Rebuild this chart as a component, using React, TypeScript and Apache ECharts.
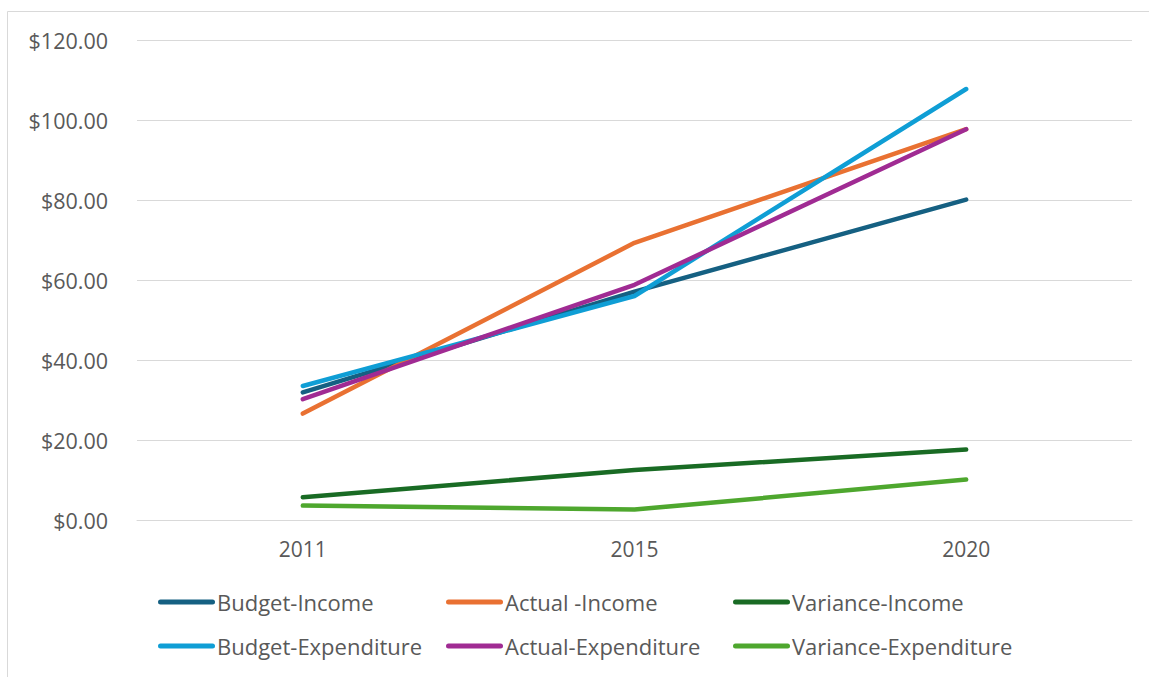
import React, { useEffect, useRef } from "react";
import * as echarts from "echarts";

const categories = ["2011", "2015", "2020"];
const seriesNames = [
  "Budget-Income",
  "Actual -Income",
  "Variance-Income",
  "Budget-Expenditure",
  "Actual-Expenditure",
  "Variance-Expenditure",
];
const budgetIncome = [31.9, 57.1, 80.1];
const actualIncome = [26.6, 69.3, 97.7];
const varianceIncome = [5.7, 12.5, 17.6];
const budgetExpenditure = [33.5, 56.0, 107.75];
const actualExpenditure = [30.2, 58.8, 97.7];
const varianceExpenditure = [3.6, 2.6, 10.1];
const colors = ["#156082", "#E97132", "#196B24", "#0F9ED5", "#A02B93", "#4EA72E"];
const yTicks = { min: 0, max: 120, interval: 20 };

const seriesData = [
  budgetIncome,
  actualIncome,
  varianceIncome,
  budgetExpenditure,
  actualExpenditure,
  varianceExpenditure,
];

const FONT = "'Open Sans', sans-serif";
const TEXT = "#595959";

export default function App() {
  const ref = useRef<HTMLDivElement>(null);
  useEffect(() => {
    document.body.style.margin = "0";
    if (!ref.current) return;
    const chart = echarts.init(ref.current, undefined, { renderer: "svg" });
    const legendLeft = [158, 446, 733];
    const legendTop = [591, 635];
    const legends = seriesNames.map((name, i) => ({
      data: [name],
      left: legendLeft[i % 3],
      top: legendTop[Math.floor(i / 3)],
      itemWidth: 57,
      itemHeight: 5,
      icon: "path://M2.5,0 L54.5,0 A2.5,2.5 0 0 1 54.5,5 L2.5,5 A2.5,2.5 0 0 1 2.5,0 Z",
      padding: 0,
      textStyle: { color: TEXT, fontSize: 22, lineHeight: 22, fontFamily: FONT, padding: [0, 0, 0, -3] },
      selectedMode: false,
    }));
    chart.setOption({
      animation: false,
      backgroundColor: "#ffffff",
      color: colors,
      graphic: [
        {
          type: "rect",
          shape: { x: 7.5, y: 11.5, width: 1200, height: 700 },
          style: { fill: "none", stroke: "#d9d9d9", lineWidth: 1 },
          silent: true,
          z: -10,
        },
      ],
      legend: legends,
      grid: { left: 137, right: 17, top: 40, bottom: 157, containLabel: false },
      xAxis: {
        type: "category",
        data: categories,
        boundaryGap: true,
        axisLine: { show: true, lineStyle: { color: "#d9d9d9", width: 1 } },
        axisTick: { show: false },
        axisLabel: { color: TEXT, fontSize: 21, lineHeight: 22, fontFamily: FONT, margin: 18 },
      },
      yAxis: {
        type: "value",
        min: yTicks.min,
        max: yTicks.max,
        interval: yTicks.interval,
        axisLine: { show: false },
        axisTick: { show: false },
        splitLine: { lineStyle: { color: "#d9d9d9", width: 1 } },
        axisLabel: {
          color: TEXT,
          fontSize: 21.5,
          fontFamily: FONT,
          margin: 29,
          formatter: (v: number) => "$" + v.toFixed(2),
        },
      },
      series: seriesNames.map((name, i) => ({
        name,
        type: "line",
        data: seriesData[i],
        symbol: "none",
        lineStyle: { width: 4.5, color: colors[i], cap: "round", join: "round" },
        itemStyle: { color: colors[i] },
      })),
    });
    return () => chart.dispose();
  }, []);
  return <div ref={ref} style={{ width: 1149, height: 677 }} />;
}
